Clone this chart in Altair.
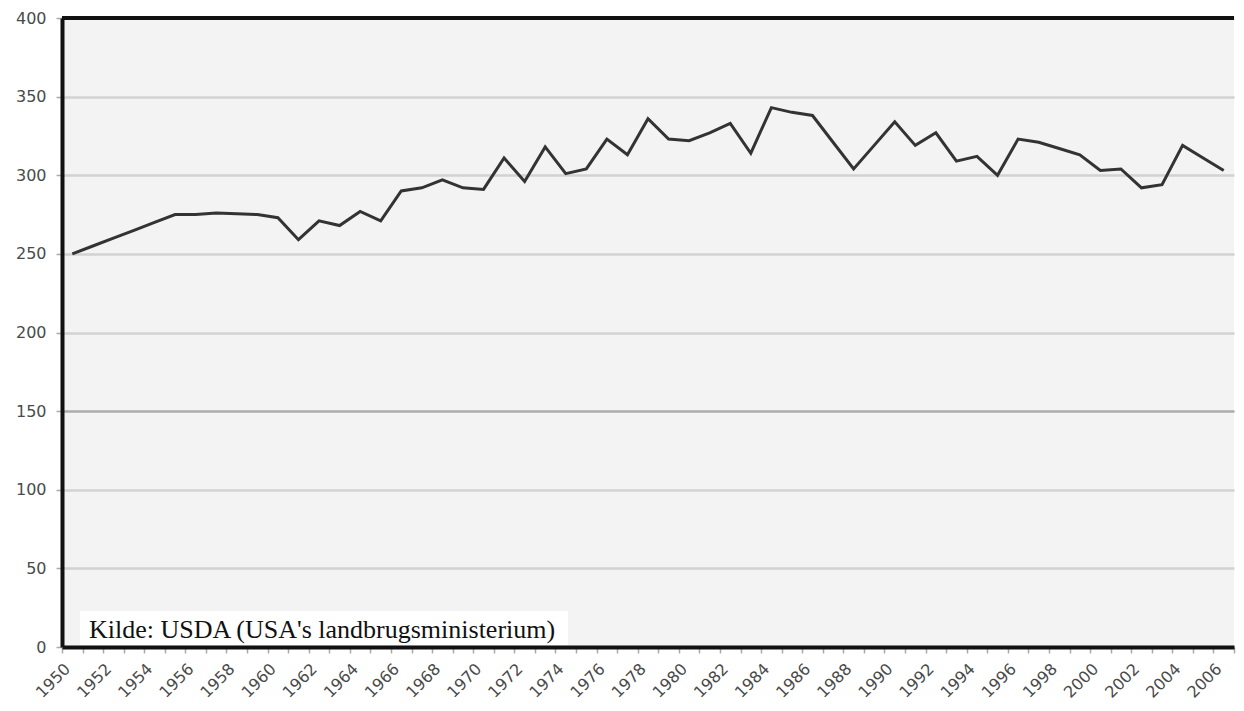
import altair as alt
import pandas as pd

# ---- data ----
years = list(range(1950, 2007))
values = [
    250, 255, 260, 265, 270, 275,                      # 1950-1955
    275, 276, 275.5, 275, 273,                         # 1956-1960
    259, 271, 268, 277, 271, 290, 292, 297, 292, 291,  # 1961-1970
    311, 296, 318, 301, 304, 323, 313, 336, 323, 322,  # 1971-1980
    327, 333, 314, 343, 340, 338, 321, 304, 319, 334,  # 1981-1990
    319, 327, 309, 312, 300, 323, 321, 317, 313, 303,  # 1991-2000
    304, 292, 294, 319, 311, 303,                      # 2001-2006
]
y_ticks = [0, 50, 100, 150, 200, 250, 300, 350, 400]
source_text = ["Kilde: USDA (USA's landbrugsministerium)"]

df = pd.DataFrame({"year": years, "value": values})

W, H = 1172, 629
LABEL_FONT = "DejaVu Sans"

x_enc = alt.X(
    "year:O",
    bandPosition=0.5,
    scale=alt.Scale(type="band", paddingInner=0, paddingOuter=0),
    axis=alt.Axis(
        title=None,
        labelAngle=-45,
        labelAlign="right",
        labelBaseline="middle",
        labelExpr="datum.value % 2 == 0 ? datum.label : ''",
        labelOverlap=False,
        labelFont=LABEL_FONT,
        labelFontSize=16,
        labelColor="#4a4a4a",
        labelPadding=13,
        labelOffset=-5,
        tickBand="extent",
        tickSize=6,
        tickColor="#aaaaaa",
        tickWidth=1.5,
        domainColor="#111111",
        domainWidth=4,
        grid=False,
    ),
)

y_enc = alt.Y(
    "value:Q",
    scale=alt.Scale(domain=[0, 400], nice=False),
    axis=alt.Axis(
        title=None,
        values=y_ticks,
        labelFont=LABEL_FONT,
        labelFontSize=16,
        labelColor="#4a4a4a",
        labelPadding=10,
        tickSize=6,
        tickColor="#aaaaaa",
        tickWidth=1.5,
        domainColor="#111111",
        domainWidth=4,
        grid=True,
        gridColor={"condition": {"test": "datum.value === 150", "value": "#acacac"},
                   "value": "#d2d2d2"},
        gridWidth=2.5,
    ),
)

line = alt.Chart(df).mark_line(color="#333333", strokeWidth=3).encode(x=x_enc, y=y_enc)

top_border = alt.Chart(pd.DataFrame({"top": [400]})).mark_rule(
    color="#111111", strokeWidth=4
).encode(y="top:Q")

src_df = pd.DataFrame({"text": source_text})
src_box = alt.Chart(src_df).mark_rect(color="white").encode(
    x=alt.value(18), x2=alt.value(506), y=alt.value(593), y2=alt.value(627)
)
src_text = alt.Chart(src_df).mark_text(
    font="Liberation Serif", fontSize=26, align="left", baseline="alphabetic", color="#111111"
).encode(x=alt.value(27), y=alt.value(620), text="text:N")

chart = (
    alt.layer(line, top_border, src_box, src_text)
    .properties(
        width=W,
        height=H,
        autosize=alt.AutoSizeParams(type="none"),
        padding={"left": 54, "top": 10, "right": 2, "bottom": 56},
    )
    .configure(background="white")
    .configure_view(fill="#f3f3f3", stroke=None)
)

chart.save("out.html", embed_options={"renderer": "svg", "actions": False})
